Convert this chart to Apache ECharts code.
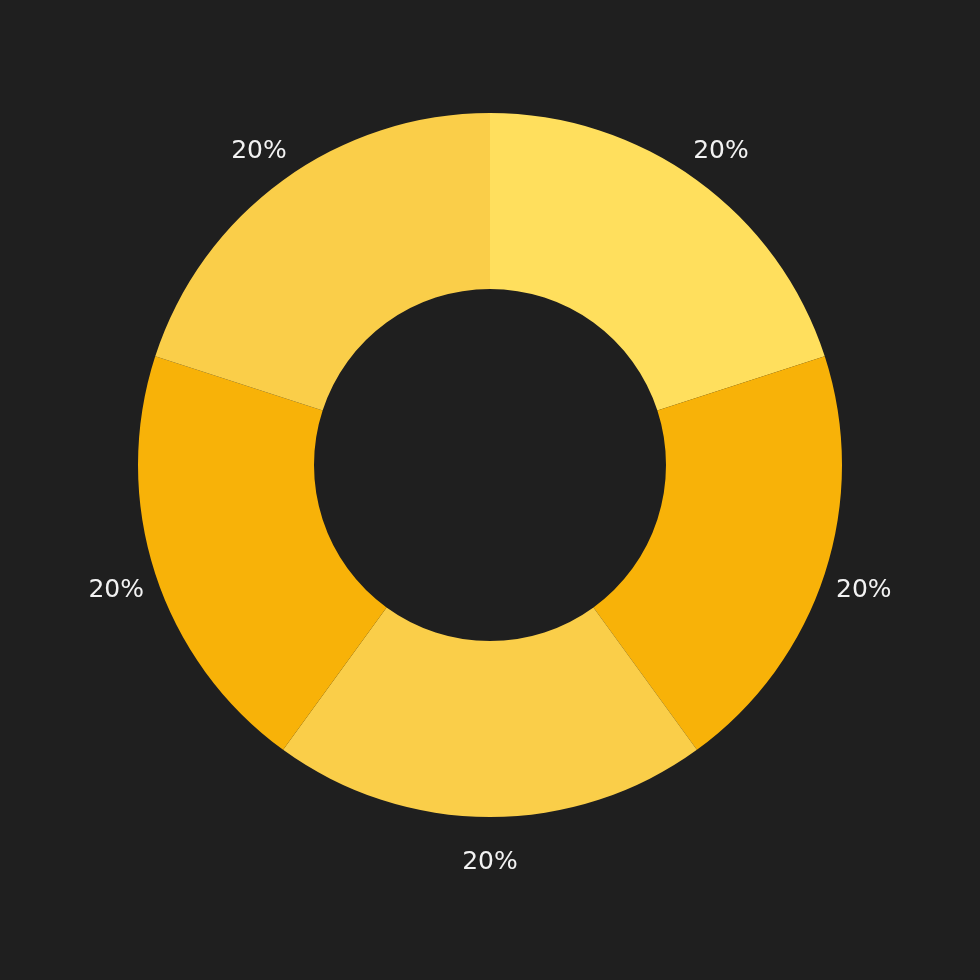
<!DOCTYPE html>
<html>
<head>
<meta charset="utf-8">
<script src="https://cdn.jsdelivr.net/npm/echarts@6/dist/echarts.min.js"></script>
<style>html,body{margin:0;padding:0;background:#1f1f1f;}#c{width:980px;height:980px;}</style>
</head>
<body>
<div id="c"></div>
<script>
const categories = ['A', 'B', 'C', 'D', 'E'];
const values = [20, 20, 20, 20, 20];
const labels = ['20%', '20%', '20%', '20%', '20%'];
const colors = ['#FFDF5D', '#F8B208', '#FACE49', '#F8B208', '#FACE49'];

const chart = echarts.init(document.getElementById('c'));
chart.setOption({
  backgroundColor: '#1f1f1f',
  animation: false,
  series: [
    {
      type: 'pie',
      center: [490, 465],
      radius: [176, 352],
      startAngle: 90,
      clockwise: true,
      label: { show: false },
      labelLine: { show: false },
      itemStyle: { borderWidth: 0 },
      data: categories.map((c, i) => ({ name: c, value: values[i], itemStyle: { color: colors[i] } }))
    },
    {
      type: 'pie',
      silent: true,
      center: [490, 465],
      radius: [380, 400],
      startAngle: 90,
      clockwise: true,
      itemStyle: { color: 'rgba(0,0,0,0)' },
      label: {
        show: true,
        position: 'inside',
        color: '#f2f2f2',
        fontSize: 25,
        fontFamily: '"DejaVu Sans", sans-serif',
        offset: [0, 4],
        formatter: p => labels[p.dataIndex]
      },
      labelLine: { show: false },
      data: categories.map((c, i) => ({ name: c, value: values[i] }))
    }
  ]
});
</script>
</body>
</html>
